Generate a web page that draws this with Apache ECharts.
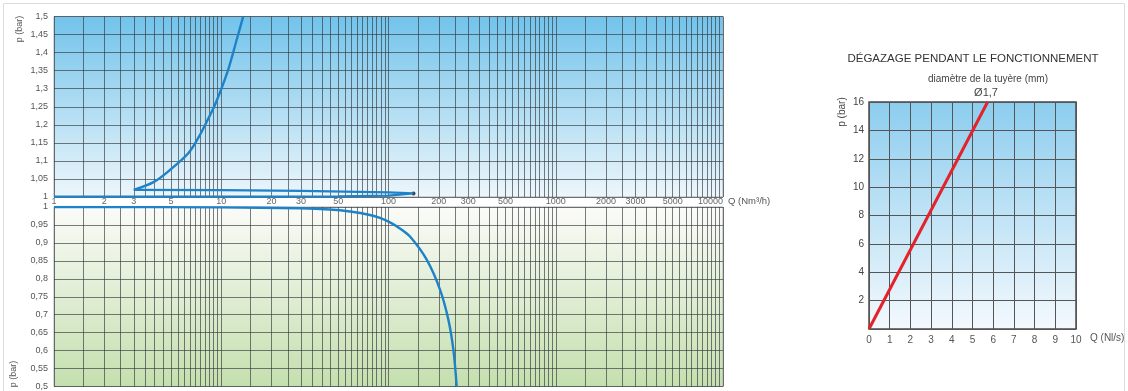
<!DOCTYPE html>
<html><head><meta charset="utf-8">
<script src="https://cdn.jsdelivr.net/npm/echarts@6/dist/echarts.min.js"></script>
<style>html,body{margin:0;padding:0;background:#fff}#c{width:1128px;height:391px}</style>
</head><body><div id="c"></div>
<script>
// ---- data ----
const qLabelValues = [1,2,3,5,10,20,30,50,100,200,300,500,1000,2000,3000,5000,10000];
const gridStepsPerDecade = [1,1.5,2,2.5,3,3.5,4,4.5,5,5.5,6,6.5,7,7.5,8,8.5,9,9.5];
const decades = [1,10,100,1000];
// upper panel: low branch out to the end point, back along the upper branch to Q=3
const wedgeLine = [[1,1.001],[20,1.001],[50,1.002],[100,1.004],[141,1.010],[100,1.013],[30,1.017],[10,1.019],[3,1.020]];
const riseCurve = [[3,1.020],[3.96,1.042],[4.94,1.075],[6.35,1.121],[7.36,1.167],[8.28,1.213],[9.24,1.259],[10.97,1.351],[12.51,1.444],[13.53,1.5]];
const endPoint = [[141,1.010]];
// lower panel
const fallCurve = [[1,1.0],[10,0.999],[29.6,0.9964],[44.7,0.9931],[58.9,0.9875],[77.5,0.9778],[88.9,0.9695],[102,0.957],[117,0.9404],[134.5,0.9177],[169.2,0.8532],[203.2,0.770],[227.8,0.687],[244,0.604],[255.7,0.5]];
// right chart
const ventLine = [[0,0],[5.73,16]];

const vGridValues = [];
decades.forEach(d => gridStepsPerDecade.forEach(s => vGridValues.push(+(s*d).toPrecision(4))));
vGridValues.push(10000);

const FONT = 'Liberation Sans, Arial, sans-serif';
const gridLine = {show:true, lineStyle:{color:'rgba(50,55,60,0.65)', width:1}};
const blue = '#1e82c8';
const fmt = v => String(+(+v).toFixed(2)).replace('.', ',');
const grad = (a,b) => ({type:'linear',x:0,y:0,x2:0,y2:1,colorStops:[{offset:0,color:a},{offset:1,color:b}]});

const chart = echarts.init(document.getElementById('c'), null, {renderer:'canvas'});
chart.setOption({
  animation:false,
  textStyle:{fontFamily:FONT},
  grid:[
    {left:54, top:16.5, width:669, height:180.5, show:true, borderColor:'#a8b0b4', borderWidth:1, backgroundColor:grad('#72c3eb','#edf6fb')},
    {left:54, top:207, width:669, height:181, show:true, borderColor:'#a8b0b4', borderWidth:1, backgroundColor:grad('#fbfbf8','#c4dfae')},
    {left:869, top:102, width:207, height:227, show:true, borderColor:'#4a4a4a', borderWidth:1.5, backgroundColor:grad('#8ccdee','#f4f9fd')}
  ],
  xAxis:[
    {gridIndex:0, type:'log', logBase:10, min:1, max:10000,
     axisLine:{show:false}, axisTick:{show:false, customValues:vGridValues}, axisLabel:{show:false}, splitLine:gridLine},
    {gridIndex:1, type:'log', logBase:10, min:1, max:10000, position:'top',
     axisLine:{show:false}, axisTick:{show:false, customValues:vGridValues},
     axisLabel:{customValues:qLabelValues, margin:1, fontSize:9, color:'#666', fontFamily:FONT, formatter:v=>String(Math.round(v)), alignMaxLabel:'right'},
     splitLine:gridLine,
     name:'Q (Nm³/h)', nameLocation:'end', nameGap:5,
     nameTextStyle:{fontSize:9.5, color:'#555', fontFamily:FONT, align:'left', verticalAlign:'bottom', lineHeight:12}},
    {gridIndex:2, type:'value', min:0, max:10, interval:1,
     axisLine:{show:false}, axisTick:{show:false},
     axisLabel:{margin:6, fontSize:10, color:'#555', fontFamily:FONT},
     splitLine:{show:true, lineStyle:{color:'#555', width:1}},
     name:'Q (Nl/s)', nameLocation:'end', nameGap:14,
     nameTextStyle:{fontSize:10, color:'#555', fontFamily:FONT, align:'left', verticalAlign:'top', lineHeight:18}}
  ],
  yAxis:[
    {gridIndex:0, type:'value', min:1, max:1.5, interval:0.05,
     axisLine:{show:false}, axisTick:{show:false},
     axisLabel:{formatter:fmt, fontSize:9, color:'#555', margin:6, fontFamily:FONT}, splitLine:gridLine},
    {gridIndex:1, type:'value', min:0.5, max:1, interval:0.05,
     axisLine:{show:false}, axisTick:{show:false},
     axisLabel:{formatter:fmt, fontSize:9, color:'#555', margin:6, fontFamily:FONT}, splitLine:gridLine},
    {gridIndex:2, type:'value', min:0, max:16, interval:2,
     axisLine:{show:false}, axisTick:{show:false},
     axisLabel:{formatter:v=> v===0 ? '' : String(v), fontSize:10, color:'#444', margin:5, fontFamily:FONT},
     splitLine:{show:true, lineStyle:{color:'#555', width:1}}}
  ],
  series:[
    {type:'line', xAxisIndex:0, yAxisIndex:0, data:wedgeLine, symbol:'none', lineStyle:{color:blue, width:2.2}},
    {type:'line', xAxisIndex:0, yAxisIndex:0, data:riseCurve, symbol:'none', smooth:0.35, lineStyle:{color:blue, width:2.4}},
    {type:'scatter', xAxisIndex:0, yAxisIndex:0, data:endPoint, symbolSize:4, itemStyle:{color:'#111'}},
    {type:'line', xAxisIndex:1, yAxisIndex:1, data:fallCurve, symbol:'none', smooth:0.35, lineStyle:{color:blue, width:2.4}},
    {type:'line', xAxisIndex:2, yAxisIndex:2, data:ventLine, symbol:'none', lineStyle:{color:'#e3222a', width:3}}
  ],
  graphic:[
    {type:'rect', shape:{x:3.5, y:3.5, width:1121, height:420}, style:{fill:'none', stroke:'#dcdcdc', lineWidth:1}, silent:true},
    {type:'text', x:20, y:29, rotation:Math.PI/2, style:{text:'p (bar)', font:'9px '+FONT, fill:'#555', textAlign:'center', textVerticalAlign:'middle'}},
    {type:'text', x:14, y:374, rotation:Math.PI/2, style:{text:'p (bar)', font:'9px '+FONT, fill:'#555', textAlign:'center', textVerticalAlign:'middle'}},
    {type:'text', x:842, y:112, rotation:Math.PI/2, style:{text:'p (bar)', font:'10px '+FONT, fill:'#444', textAlign:'center', textVerticalAlign:'middle'}},
    {type:'text', x:973, y:59, style:{text:'DÉGAZAGE PENDANT LE FONCTIONNEMENT', font:'11.5px '+FONT, fill:'#333', textAlign:'center', textVerticalAlign:'middle'}},
    {type:'text', x:988, y:79, style:{text:'diamètre de la tuyère (mm)', font:'10px '+FONT, fill:'#444', textAlign:'center', textVerticalAlign:'middle'}},
    {type:'text', x:986, y:93, style:{text:'Ø1,7', font:'11px '+FONT, fill:'#444', textAlign:'center', textVerticalAlign:'middle'}}
  ]
});
</script>
</body></html>
